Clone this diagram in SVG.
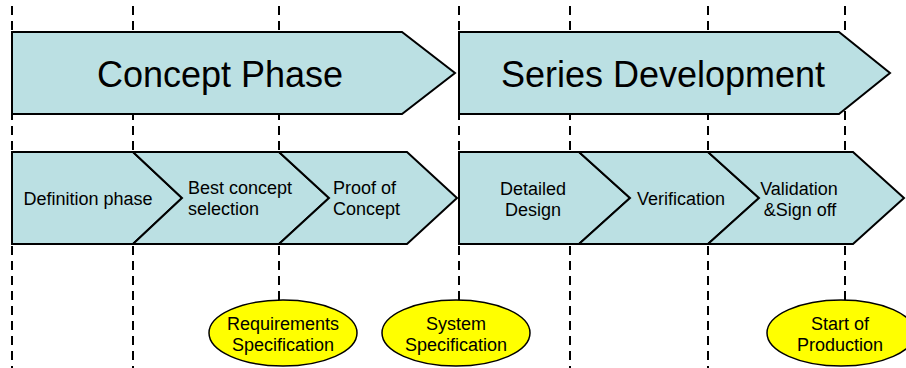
<svg xmlns="http://www.w3.org/2000/svg" width="906" height="368" viewBox="0 0 906 368">
<style>
.grid line{stroke:#000;stroke-width:2;stroke-dasharray:9,6}
.arr{fill:#BBE0E3;stroke:#000;stroke-width:2;stroke-linejoin:miter}
.ms{fill:#FFFF00;stroke:#000;stroke-width:1.5}
.big{font-family:"Liberation Sans",Arial,sans-serif;font-size:36px;fill:#000;text-anchor:middle}
.sm{font-family:"Liberation Sans",Arial,sans-serif;font-size:18px;fill:#000}
.c{text-anchor:middle}
</style>
<rect width="906" height="368" fill="#fff"/>
<g id="connectors" class="grid">
<line x1="12" y1="6" x2="12" y2="368"/>
<line x1="133" y1="6" x2="133" y2="368"/>
<line x1="279" y1="6" x2="279" y2="300"/>
<line x1="459" y1="6" x2="459" y2="300"/>
<line x1="570" y1="6" x2="570" y2="368"/>
<line x1="708" y1="6" x2="708" y2="368"/>
<line x1="845" y1="6" x2="845" y2="300"/>
</g>
<g id="concept-phase">
<path class="arr" d="M12,32 H402 L455,73 L402,114 H12 Z"/>
<text class="big" x="220" y="87">Concept Phase</text>
</g>
<g id="series-development">
<path class="arr" d="M459,32 H839 L890,73 L839,114 H459 Z"/>
<text class="big" x="663" y="87">Series Development</text>
</g>
<g id="definition-phase">
<path class="arr" d="M12,152 H133 L182,198 L133,244 H12 Z"/>
<text class="sm c" x="88" y="205">Definition phase</text>
</g>
<g id="best-concept">
<path class="arr" d="M133,152 H279 L329,198 L279,244 H133 L182,198 Z"/>
<text class="sm" x="188" y="194">Best concept</text>
<text class="sm" x="188" y="215">selection</text>
</g>
<g id="proof-of-concept">
<path class="arr" d="M279,152 H407 L457,198 L407,244 H279 L329,198 Z"/>
<text class="sm" x="333" y="194">Proof of</text>
<text class="sm" x="333" y="215">Concept</text>
</g>
<g id="detailed-design">
<path class="arr" d="M459,152 H579 L630,198 L579,244 H459 Z"/>
<text class="sm c" x="533" y="195">Detailed</text>
<text class="sm c" x="533" y="216">Design</text>
</g>
<g id="verification">
<path class="arr" d="M579,152 H708 L759,198 L708,244 H579 L630,198 Z"/>
<text class="sm c" x="681" y="205">Verification</text>
</g>
<g id="validation">
<path class="arr" d="M708,152 H853 L904,198 L853,244 H708 L759,198 Z"/>
<text class="sm c" x="799" y="195">Validation</text>
<text class="sm c" x="800" y="216">&amp;Sign off</text>
</g>
<g id="requirements-specification">
<ellipse class="ms" cx="283" cy="333" rx="74" ry="33"/>
<text class="sm c" x="283" y="330">Requirements</text>
<text class="sm c" x="283" y="351">Specification</text>
</g>
<g id="system-specification">
<ellipse class="ms" cx="456" cy="333" rx="74" ry="33"/>
<text class="sm c" x="456" y="330">System</text>
<text class="sm c" x="456" y="351">Specification</text>
</g>
<g id="start-of-production">
<ellipse class="ms" cx="841" cy="333" rx="74" ry="33"/>
<text class="sm c" x="840" y="330">Start of</text>
<text class="sm c" x="840" y="351">Production</text>
</g>
</svg>
